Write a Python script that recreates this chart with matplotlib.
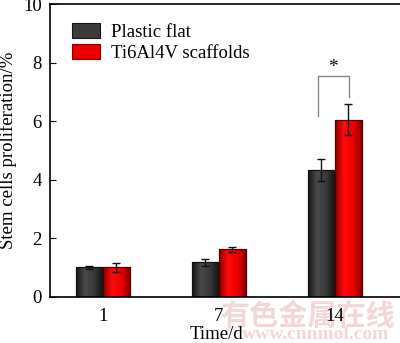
import matplotlib
matplotlib.use("Agg")
import matplotlib.pyplot as plt
from matplotlib.colors import LinearSegmentedColormap
import numpy as np

categories = ["1", "7", "14"]
plastic = [1.00, 1.18, 4.33]
plastic_err = [0.06, 0.12, 0.37]
ti = [1.00, 1.62, 6.04]
ti_err = [0.15, 0.08, 0.53]
series_names = ["Plastic flat", "Ti6Al4V scaffolds"]

plt.rcParams['font.family'] = ['Liberation Serif', 'DejaVu Serif']

fig = plt.figure(figsize=(4.0, 3.43), dpi=100)
ax = fig.add_axes([0.125, 0.135, 0.9, 0.853])

x = np.arange(len(categories))
w = 0.232
b1 = ax.bar(x - w/2, plastic, w, color='#3b3b3b', edgecolor='#111111', linewidth=0.8,
            yerr=plastic_err, capsize=3, error_kw=dict(elinewidth=1, capthick=1, ecolor='#111111', zorder=5),
            label=series_names[0])
b2 = ax.bar(x + w/2, ti, w, color='#ee0000', edgecolor='#550000', linewidth=0.8,
            yerr=ti_err, capsize=3, error_kw=dict(elinewidth=1, capthick=1, ecolor='#111111', zorder=5),
            label=series_names[1])

# cylindrical shading on bars
gray_cmap = LinearSegmentedColormap.from_list('g', ['#151515', '#4a4a4a', '#3a3a3a', '#151515'])
red_cmap = LinearSegmentedColormap.from_list('r', ['#8a0000', '#ff0a0a', '#f00000', '#8a0000'])
grad = np.linspace(0, 1, 64).reshape(1, -1)
for bars, cmap in ((b1, gray_cmap), (b2, red_cmap)):
    for p in bars:
        bx, by = p.get_x(), p.get_y()
        bw, bh = p.get_width(), p.get_height()
        im = ax.imshow(grad, cmap=cmap, aspect='auto', extent=(bx, bx + bw, by, by + bh),
                       zorder=p.get_zorder() + 0.1, interpolation='bilinear')
        im.set_clip_path(p)
        edge = plt.Rectangle((bx, by), bw, bh, fill=False, edgecolor=p.get_edgecolor(),
                             linewidth=0.8, zorder=p.get_zorder() + 0.2)
        ax.add_patch(edge)

# significance bracket
xl, xr = x[2] - w/2 - 0.03, x[2] + w/2 + 0.005
ax.plot([xl, xl, xr, xr], [6.17, 7.54, 7.54, 6.83], color='#888888', lw=1)
ax.text((xl + xr) / 2, 7.55, '*', ha='center', va='bottom', fontsize=14)

ax.set_xlim(-0.455, 2.65)
ax.set_ylim(0, 10)
ax.set_xticks(x)
ax.set_xticklabels(categories)
ax.set_yticks([0, 2, 4, 6, 8, 10])
ax.tick_params(axis='y', direction='in', length=4, labelsize=13.5, pad=6)
ax.tick_params(axis='x', length=0, labelsize=13.5, pad=8)
ax.set_ylabel('Stem cells proliferation/%', fontsize=13.5, labelpad=4)
ax.set_xlabel('Time/d', fontsize=13.5)
ax.xaxis.set_label_coords((216 - 50) / 360, -0.10)
for s in ax.spines.values():
    s.set_linewidth(1.2)

leg = ax.legend(loc='upper left', bbox_to_anchor=(0.03, 0.975), frameon=False,
                fontsize=13.5, handlelength=1.5, handleheight=0.85,
                handletextpad=0.6, labelspacing=0.2, borderaxespad=0.2)
for h, cmap_col in zip(leg.legend_handles, ['#151515', '#8a0000']):
    h.set_edgecolor(cmap_col)

# watermark
fig.text(0.77, 0.08, '有色金属在线', fontsize=21, color='#f4d6d6',
         family=['Noto Sans CJK SC'], ha='center', va='center', fontweight='bold', zorder=-1)
fig.text(0.79, 0.025, 'www.cnnmol.com', fontsize=14, color='#f4d6d6',
         ha='center', va='center', fontweight='bold', zorder=-1)

fig.savefig('out.png', dpi=100)
